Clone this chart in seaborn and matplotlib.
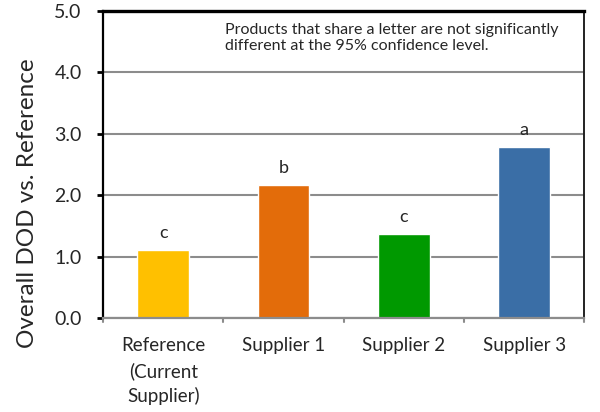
import matplotlib
matplotlib.use("Agg")
import matplotlib.pyplot as plt
import seaborn as sns
import pandas as pd

categories = ["Reference\n(Current\nSupplier)", "Supplier 1", "Supplier 2", "Supplier 3"]
values = [1.10, 2.16, 1.36, 2.78]
letters = ["c", "b", "c", "a"]
colors = ["#FFC000", "#E36C0A", "#009900", "#3A6EA6"]
y_ticks = [0.0, 1.0, 2.0, 3.0, 4.0, 5.0]
note = "Products that share a letter are not significantly\ndifferent at the 95% confidence level."

sns.set_style("white")
plt.rcParams["font.family"] = ["Lato", "DejaVu Sans"]

df = pd.DataFrame({"cat": categories, "val": values})

fig = plt.figure(figsize=(6.0, 4.12), dpi=100)
ax = fig.add_axes([0.172, 0.2282, 0.8017, 0.7451])
sns.barplot(data=df, x="cat", y="val", hue="cat", palette=colors, legend=False,
            width=0.43, ax=ax, saturation=1)

ax.set_ylim(0, 5)
ax.set_xlim(-0.5, 3.5)
ax.set_yticks(y_ticks)
ax.set_yticklabels([f"{v:.1f}" for v in y_ticks], fontsize=14)
ax.yaxis.grid(True, color="#8c8c8c", linewidth=1.5)
ax.set_axisbelow(True)
ax.set_xlabel("")
ax.set_ylabel("Overall DOD vs. Reference", fontsize=17.5, labelpad=12)
ax.yaxis.label.set_y(0.375)
ax.tick_params(axis="x", labelsize=13.5, length=0, pad=14)
for lab in ax.get_xticklabels():
    lab.set_linespacing(1.5)
ax.tick_params(axis="y", left=True, length=4.5, width=2, color="black", pad=11)

# category boundary ticks
for xb in [-0.5, 0.5, 1.5, 2.5, 3.5]:
    ax.plot([xb, xb], [0, -0.07], color="#8c8c8c", lw=1.5, clip_on=False)

for s in ["left", "top", "right", "bottom"]:
    ax.spines[s].set_visible(True)
ax.spines["left"].set_color("black")
ax.spines["left"].set_linewidth(1.6)
ax.spines["top"].set_color("black")
ax.spines["top"].set_linewidth(2.4)
ax.spines["right"].set_color("#222222")
ax.spines["right"].set_linewidth(1.4)
ax.spines["bottom"].set_color("#8c8c8c")
ax.spines["bottom"].set_linewidth(1.6)

for i, (v, l) in enumerate(zip(values, letters)):
    ax.text(i, v + 0.2, l, ha="center", va="baseline", fontsize=13)

ax.text(0.254, 0.962, note, transform=ax.transAxes, ha="left", va="top",
        fontsize=11.5, linespacing=1.25)

fig.savefig("out.png", dpi=100)
